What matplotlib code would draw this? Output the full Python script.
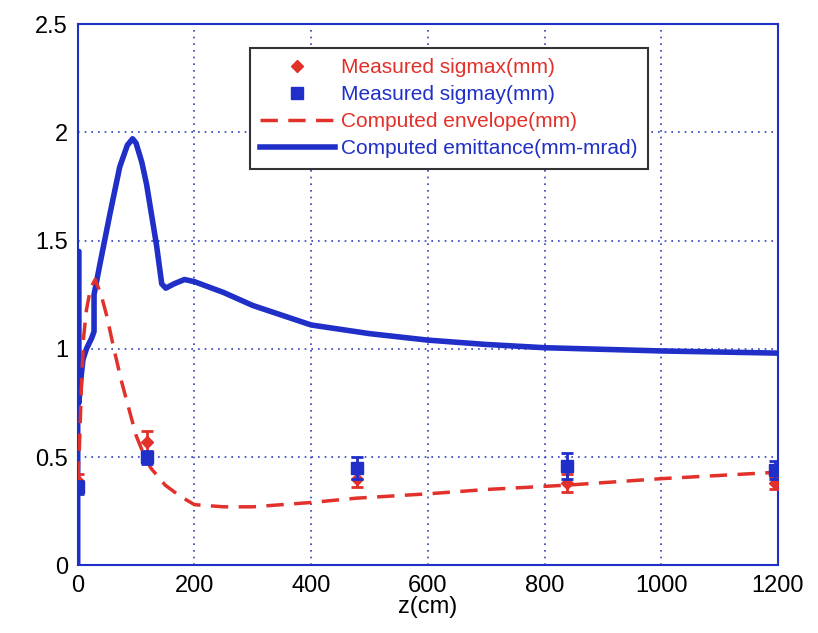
import numpy as np
import matplotlib.pyplot as plt

# measured beam sizes
z_meas = [0, 118, 478, 838, 1195]
sigmax = [0.39, 0.57, 0.40, 0.38, 0.38]
sigmax_err = [0.03, 0.05, 0.04, 0.04, 0.03]
sigmay = [0.36, 0.50, 0.45, 0.46, 0.44]
sigmay_err = [0.03, 0.03, 0.05, 0.06, 0.04]

# computed emittance (mm-mrad)
z_emit = [0, 0, 2, 2, 5, 9, 15, 24, 28, 28, 38, 55, 72, 85, 94, 100, 110, 118,
          135, 144, 151, 165, 183, 200, 250, 300, 400, 500, 600, 700, 800, 1000, 1200]
emit = [0, 1.45, 1.45, 0.75, 0.85, 0.95, 1.0, 1.05, 1.08, 1.25, 1.39, 1.62, 1.84,
        1.94, 1.97, 1.95, 1.86, 1.76, 1.48, 1.30, 1.28, 1.30, 1.32, 1.31, 1.26,
        1.20, 1.11, 1.07, 1.04, 1.02, 1.005, 0.99, 0.98]

# computed envelope (mm)
z_env = [0, 3, 6, 10, 15, 22, 30, 40, 50, 62, 75, 88, 100, 112, 125, 150, 175,
         200, 250, 300, 400, 478, 600, 700, 838, 1000, 1200]
env = [0.40, 0.55, 0.80, 1.05, 1.18, 1.28, 1.32, 1.25, 1.15, 1.00, 0.85, 0.72,
       0.60, 0.52, 0.45, 0.37, 0.32, 0.28, 0.27, 0.27, 0.29, 0.31, 0.33, 0.35,
       0.37, 0.40, 0.43]

y_ticks = [0, 0.5, 1, 1.5, 2, 2.5]
y_labels = ['0', '0.5', '1', '1.5', '2', '2.5']
x_ticks = [0, 200, 400, 600, 800, 1000, 1200]

red = '#e2302a'
blue = '#1f2fc8'

plt.rcParams['font.family'] = ['Liberation Sans', 'DejaVu Sans']

fig = plt.figure(figsize=(8.18, 6.33), dpi=100)
ax = fig.add_axes([0.095, 0.107, 0.856, 0.855])

ax.errorbar(z_meas, sigmax, yerr=sigmax_err, fmt='none', ecolor=red,
            capsize=4, elinewidth=2, capthick=2, zorder=4)
ax.errorbar(z_meas, sigmay, yerr=sigmay_err, fmt='none', ecolor=blue,
            capsize=4, elinewidth=2, capthick=2, zorder=5)
ax.plot(z_meas, sigmax, 'D', color=red, ms=6, ls='none', label='Measured sigmax(mm)', zorder=4)
ax.plot(z_meas, sigmay, 's', color=blue, ms=8, ls='none', label='Measured sigmay(mm)', zorder=5)
ax.plot(z_env, env, '--', color=red, lw=2.5, dashes=(5, 3), label='Computed envelope(mm)', zorder=3)
ax.plot(z_emit, emit, '-', color=blue, lw=4, label='Computed emittance(mm-mrad)', zorder=2)

ax.set_xlim(0, 1200)
ax.set_ylim(0, 2.5)
ax.set_xticks(x_ticks)
ax.set_yticks(y_ticks)
ax.set_yticklabels(y_labels)
ax.tick_params(labelsize=17, length=0, pad=7)
ax.grid(True, color='#3040c0', linestyle=(0, (1, 3)), linewidth=1.2)
for s in ax.spines.values():
    s.set_color(blue)
    s.set_linewidth(1.5)

ax.set_xlabel('z(cm)', fontsize=17, labelpad=-1)

leg = ax.legend(loc='upper center', bbox_to_anchor=(0.53, 0.975), fontsize=15,
                frameon=True, fancybox=False, edgecolor='#333333', framealpha=1,
                handlelength=3.6, borderpad=0.5, labelspacing=0.38, handletextpad=0.3)
leg.get_frame().set_linewidth(1.5)
for txt, c in zip(leg.get_texts(), [red, blue, red, blue]):
    txt.set_color(c)

fig.savefig('out.png', dpi=100)
